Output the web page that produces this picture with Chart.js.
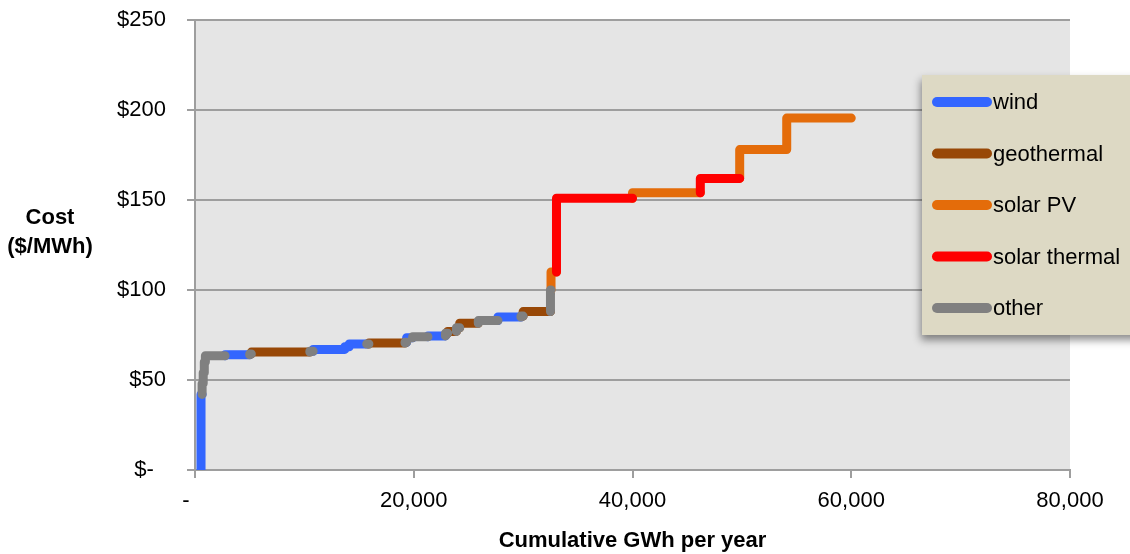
<!DOCTYPE html>
<html>
<head>
<meta charset="utf-8">
<script src="https://cdn.jsdelivr.net/npm/chart.js@4.4.1/dist/chart.umd.min.js"></script>
<style>
  html, body { margin: 0; padding: 0; background: #fff; }
</style>
</head>
<body>
<canvas id="supplyChart" width="1130" height="554"></canvas>
<script>
const techNames = ['wind', 'geothermal', 'solar PV', 'solar thermal', 'other'];

// supply blocks in merit order: technology, cumulative GWh at block end, cost ($/MWh)
const curveStart = 550;
const blockTech = [
  'wind', 'other', 'other', 'other', 'other', 'wind', 'other', 'geothermal',
  'other', 'wind', 'wind', 'wind', 'other', 'geothermal', 'other', 'wind',
  'other', 'wind', 'other', 'geothermal', 'other', 'geothermal', 'other', 'wind',
  'other', 'geothermal', 'other', 'solar PV', 'solar thermal', 'solar PV', 'solar thermal', 'solar PV',
  'solar PV'
];
const blockEnd = [
  650, 750, 850, 950, 2750, 5000, 5150, 10500,
  10800, 13700, 14100, 15700, 15900, 19200, 19350, 19900,
  21300, 22900, 23100, 23900, 24200, 25900, 27700, 29800,
  30000, 32500, 32550, 33050, 40000, 46200, 49800, 54100,
  60000
];
const blockCost = [
  42, 48, 54, 60, 63.5, 64, 64.5, 65.5,
  66, 67, 68.5, 70, 70, 70.5, 71, 73.5,
  74, 74.5, 76, 77, 79, 81.5, 83, 85,
  85.5, 88, 100, 110, 151, 154, 162, 178,
  195.5
];

const xTickLabels = ['-   ', '20,000', '40,000', '60,000', '80,000'];
const yTickLabels = ['$-  ', '$50', '$100', '$150', '$200', '$250'];

const techColors = ['#3366ff', '#984807', '#e46c0a', '#ff0000', '#808080'];
const drawOrder = [4, 3, 2, 1, 0];

// each block rises from the previous cost at its start, then runs flat to its end
function stepPoints(tech) {
  const pts = [];
  let x0 = curveStart, prev = 0;
  for (let i = 0; i < blockEnd.length; i++) {
    if (blockTech[i] === tech) {
      pts.push({x: x0, y: prev}, {x: x0, y: blockCost[i]},
               {x: blockEnd[i], y: blockCost[i]}, {x: blockEnd[i], y: null});
    }
    x0 = blockEnd[i];
    prev = blockCost[i];
  }
  return pts;
}

Chart.defaults.font.family = "'Liberation Sans', Arial, sans-serif";
Chart.defaults.font.size = 22;
Chart.defaults.color = '#000';

const plotBackground = {
  id: 'plotBackground',
  beforeDraw(chart) {
    const {ctx, chartArea: a} = chart;
    ctx.save();
    ctx.fillStyle = '#e5e5e5';
    ctx.fillRect(a.left, a.top, a.right - a.left, a.bottom - a.top);
    ctx.restore();
  }
};

const titlesAndLegend = {
  id: 'titlesAndLegend',
  afterDraw(chart) {
    const {ctx, chartArea: a} = chart;
    ctx.save();
    ctx.fillStyle = '#000';
    ctx.font = "bold 22px 'Liberation Sans', Arial, sans-serif";
    ctx.textAlign = 'center';
    ctx.textBaseline = 'middle';
    ctx.fillText('Cost', 50, 218);
    ctx.fillText('($/MWh)', 50, 247);
    ctx.fillText('Cumulative GWh per year', (a.left + a.right) / 2, 541);

    // legend panel
    ctx.save();
    ctx.shadowColor = 'rgba(0,0,0,0.45)';
    ctx.shadowBlur = 8;
    ctx.shadowOffsetY = 5;
    ctx.shadowOffsetX = -1;
    ctx.fillStyle = '#ddd9c4';
    ctx.fillRect(922, 75, 240, 260);
    ctx.restore();

    ctx.font = "22px 'Liberation Sans', Arial, sans-serif";
    ctx.textAlign = 'left';
    ctx.lineCap = 'round';
    ctx.lineWidth = 10;
    chart.data.datasets.forEach((ds, i) => {
      const y = 102 + i * 51.5;
      ctx.strokeStyle = ds.borderColor;
      ctx.beginPath();
      ctx.moveTo(937, y);
      ctx.lineTo(987, y);
      ctx.stroke();
      ctx.fillStyle = '#000';
      ctx.fillText(ds.label, 993, y + 1);
    });
    ctx.restore();
  }
};

new Chart(document.getElementById('supplyChart'), {
  type: 'line',
  data: {
    datasets: techNames.map((name, i) => ({
      label: name,
      data: stepPoints(name),
      borderColor: techColors[i],
      borderWidth: 9,
      borderCapStyle: 'round',
      borderJoinStyle: 'round',
      pointRadius: 0,
      tension: 0,
      spanGaps: false,
      order: drawOrder[i]
    }))
  },
  options: {
    responsive: false,
    animation: false,
    devicePixelRatio: 1,
    layout: { padding: { top: 20, right: 60, left: 0, bottom: 0 } },
    scales: {
      x: {
        type: 'linear',
        min: 0,
        max: 80000,
        afterFit: (s) => { s.height = 84; },
        border: { display: true, color: '#9e9e9e', width: 2 },
        grid: { drawOnChartArea: false, color: '#9e9e9e', lineWidth: 2, tickLength: 8 },
        ticks: {
          stepSize: 20000,
          padding: 10,
          maxRotation: 0,
          callback: (v) => xTickLabels[Math.round(v / 20000)]
        }
      },
      y: {
        min: 0,
        max: 250,
        afterFit: (s) => { s.width = 195; s.paddingTop = 14; s.paddingBottom = 14; },
        border: { display: true, color: '#9e9e9e', width: 2 },
        grid: { color: '#9e9e9e', lineWidth: 2, tickLength: 8 },
        ticks: {
          stepSize: 50,
          padding: 21,
          callback: (v) => yTickLabels[Math.round(v / 50)]
        }
      }
    },
    plugins: {
      legend: { display: false },
      tooltip: { enabled: false }
    }
  },
  plugins: [plotBackground, titlesAndLegend]
});
</script>
</body>
</html>
